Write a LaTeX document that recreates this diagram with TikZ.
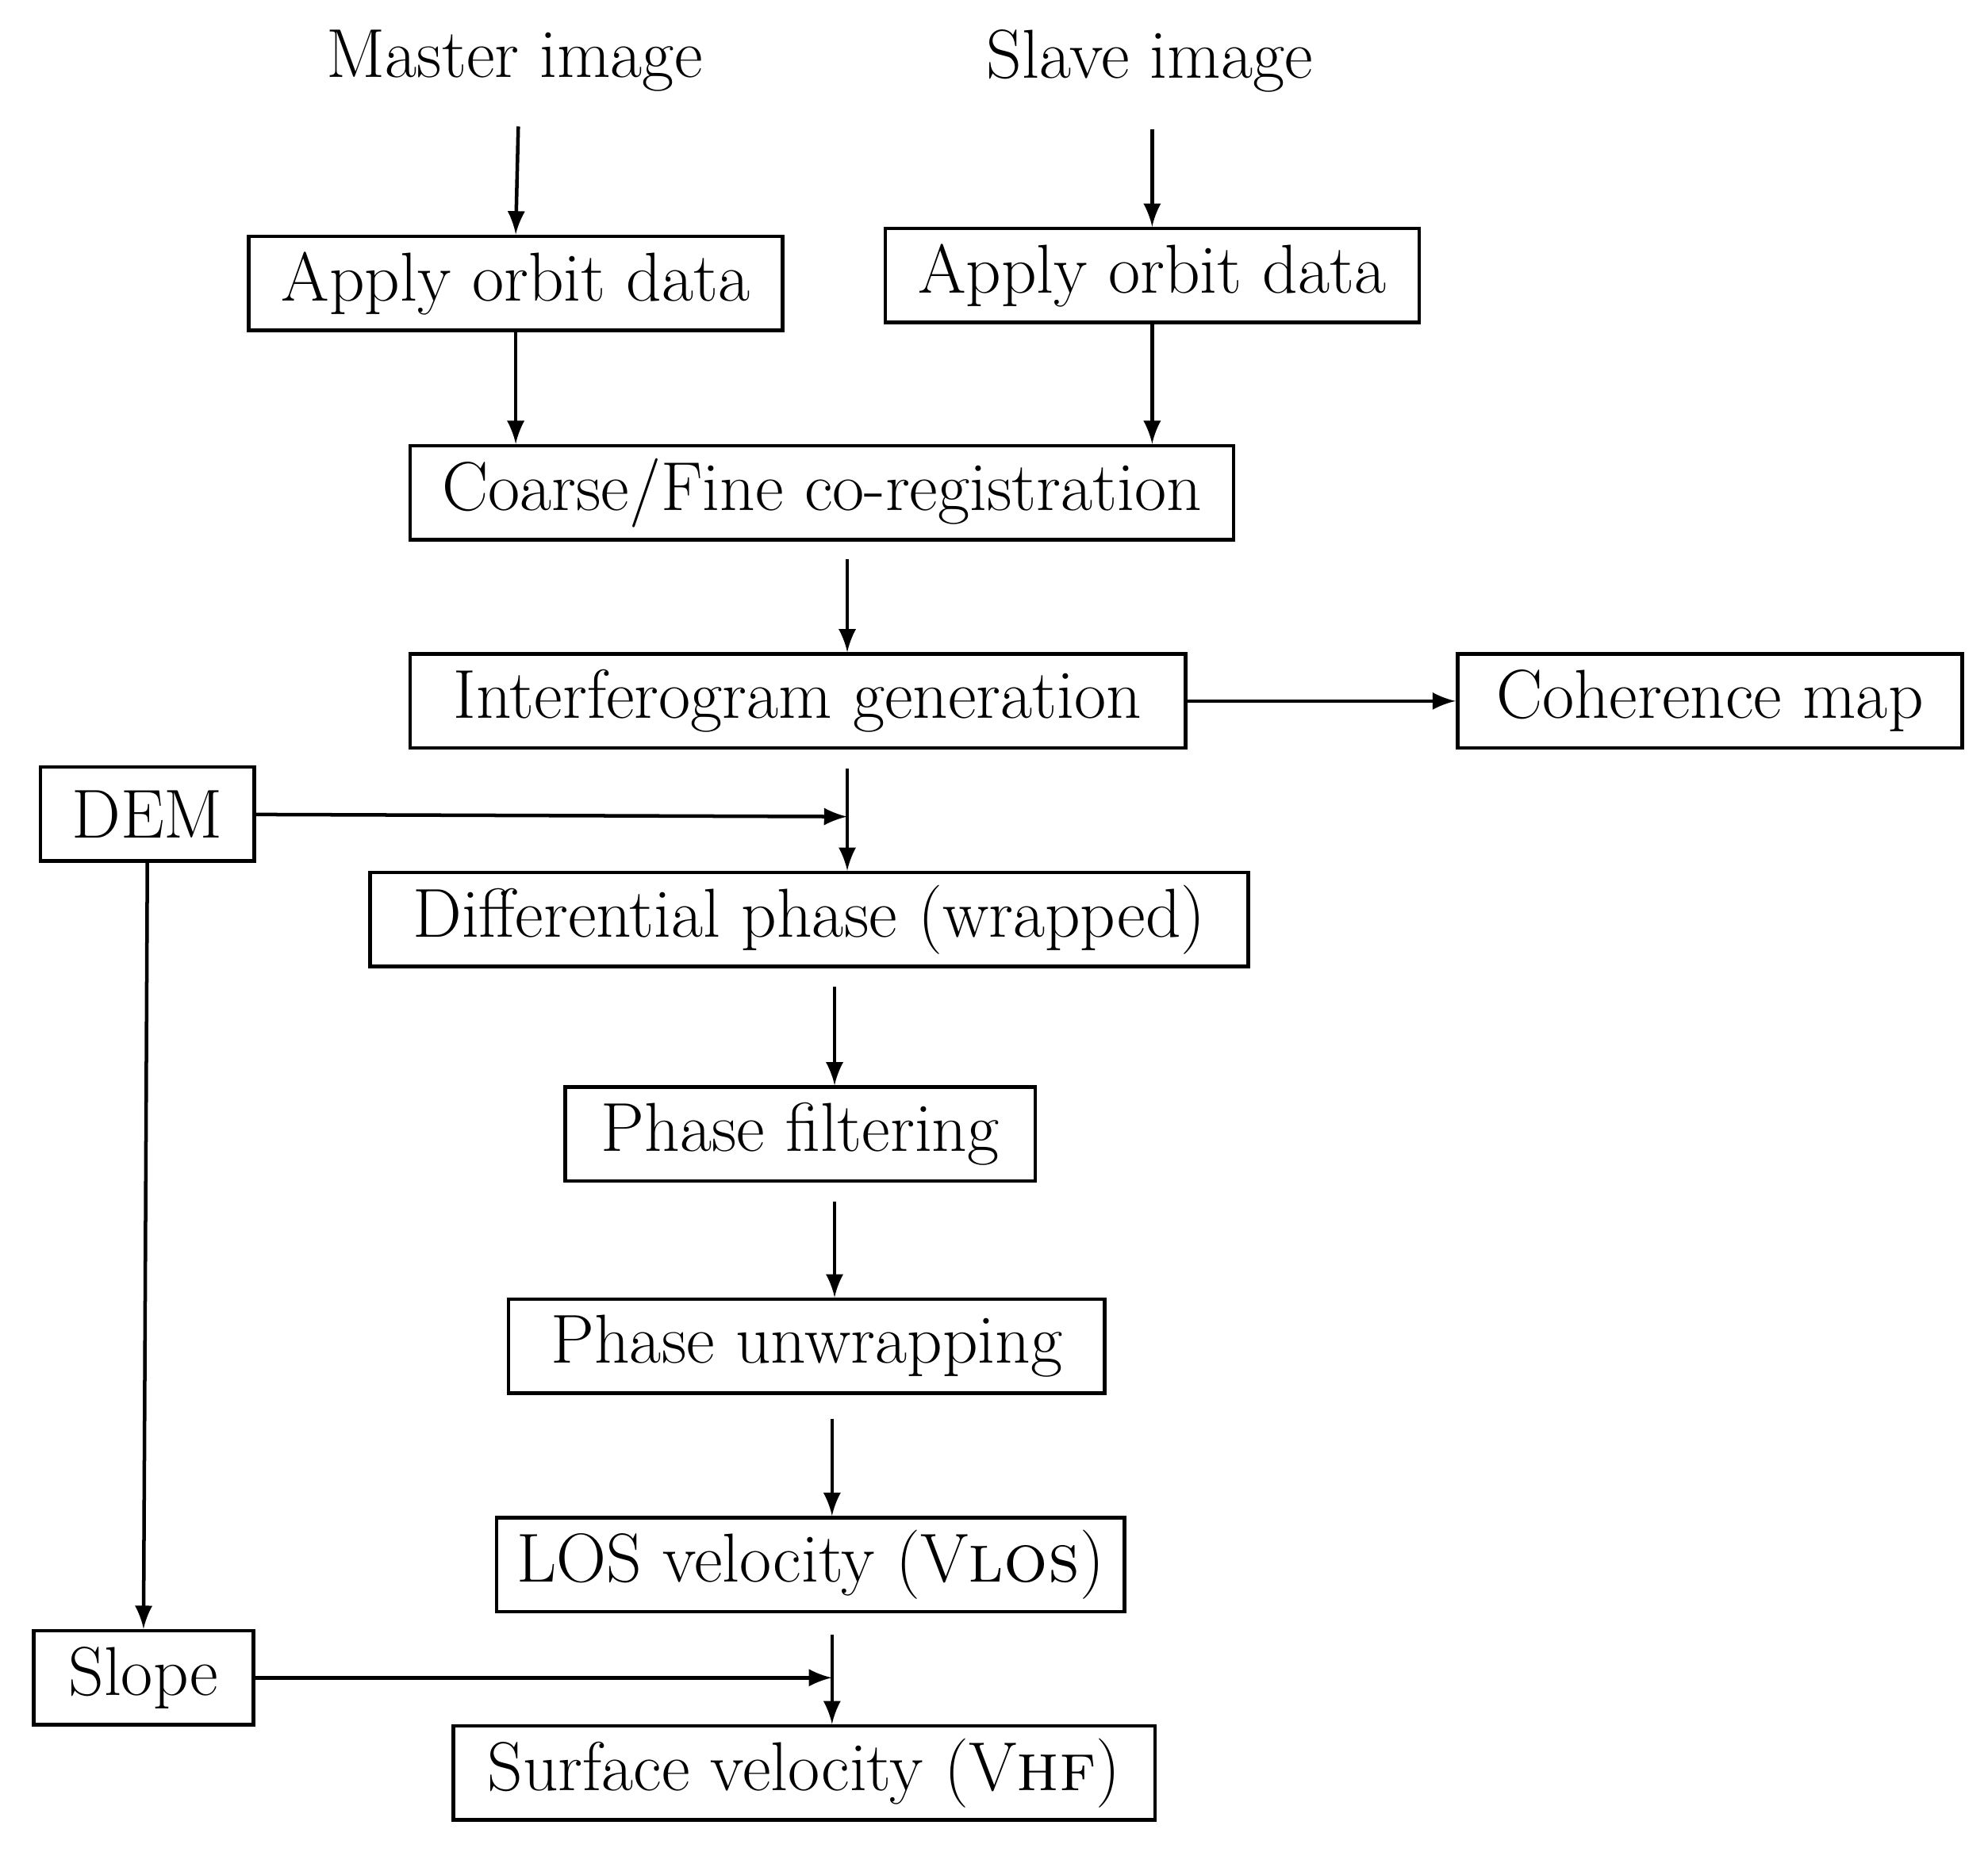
\documentclass[tikz,border=0pt]{standalone}
\usetikzlibrary{arrows}
\begin{document}
\begin{tikzpicture}[x=0.01cm,y=-0.01cm,
  font=\fontsize{15.5}{19}\selectfont,
  box/.style={draw,thick,minimum height=0.74cm,inner sep=0pt},
  to/.style={->,>=latex,thick}]
  \useasboundingbox (0,0) rectangle (1565,1458);

  % Inputs
  \node (master) at (405,48) {Master image};
  \node (slave) at (905,48) {Slave image};

  % Processing chain
  \node[box,minimum width=4.2cm] (orbitM) at (406,223) {Apply orbit data};
  \node[box,minimum width=4.2cm] (orbitS) at (907,217) {Apply orbit data};
  \node[box,minimum width=6.48cm] (coreg) at (647,388) {Coarse/Fine co-registration};
  \node[box,minimum width=6.1cm] (ifg) at (628,552) {Interferogram generation};
  \node[box,minimum width=3.97cm] (coh) at (1346,552) {Coherence map};
  \node[box,minimum width=1.68cm] (dem) at (116,641) {DEM};
  \node[box,minimum width=6.91cm] (diff) at (637,724) {Differential phase (wrapped)};
  \node[box,minimum width=3.7cm] (filt) at (630,893) {Phase filtering};
  \node[box,minimum width=4.69cm] (unwrap) at (635,1060) {Phase unwrapping};
  \node[box,minimum width=4.94cm] (los) at (638,1232) {LOS velocity (V\textsc{los})};
  \node[box,minimum width=1.73cm] (slope) at (113,1321) {Slope};
  \node[box,minimum width=5.52cm] (surf) at (633,1396) {Surface velocity (V\textsc{hf})};

  % Free ends of the arrows
  \coordinate (c1) at (667,440);
  \coordinate (c2) at (667,605);
  \coordinate (c3) at (667,643);
  \coordinate (c4) at (657,777);
  \coordinate (c5) at (657,946);
  \coordinate (c6) at (655,1117);
  \coordinate (c7) at (655,1287);
  \coordinate (c8) at (655,1321);

  % Arrows
  \draw[to] (master.south) ++(3,15) -- (orbitM.north);
  \draw[to] (slave.south) ++(2,17) -- (orbitS.north);
  \draw[to] (orbitM.south) -- (orbitM.south |- coreg.north);
  \draw[to] (orbitS.south) -- (orbitS.south |- coreg.north);
  \draw[to] (c1) -- (c1 |- ifg.north);
  \draw[to] (ifg) -- (coh);
  \draw[to] (c2) -- (c2 |- diff.north);
  \draw[to] (dem) -- (c3);
  \draw[to] (dem.south) -- (slope.north);
  \draw[to] (c4) -- (c4 |- filt.north);
  \draw[to] (c5) -- (c5 |- unwrap.north);
  \draw[to] (c6) -- (c6 |- los.north);
  \draw[to] (c7) -- (c7 |- surf.north);
  \draw[to] (slope) -- (c8);
\end{tikzpicture}
\end{document}
